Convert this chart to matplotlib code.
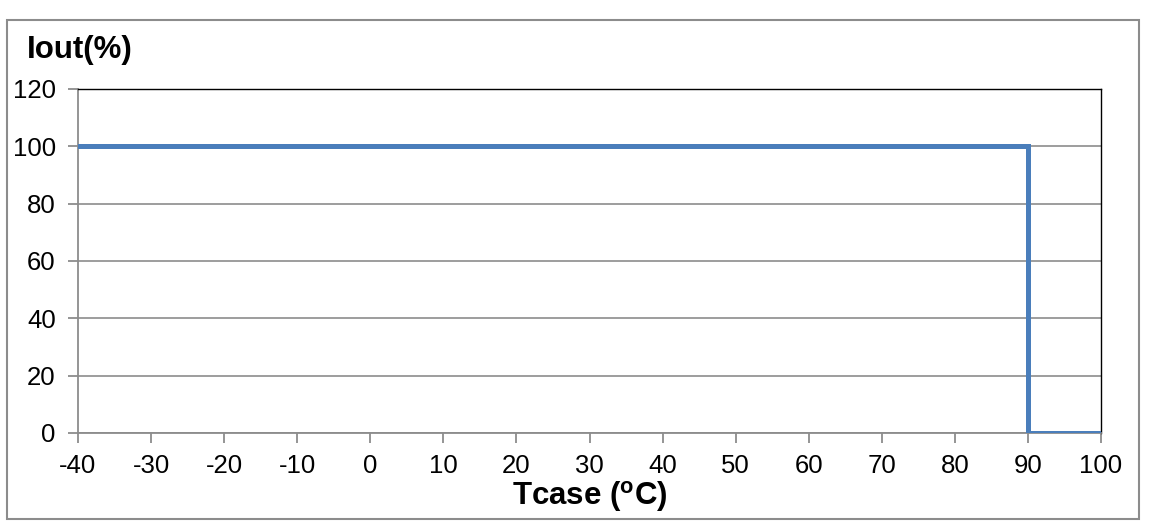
import matplotlib
matplotlib.use("Agg")
import matplotlib.pyplot as plt
from matplotlib.patches import Rectangle

plt.rcParams['font.family'] = ['Liberation Sans', 'DejaVu Sans']
plt.rcParams['axes.unicode_minus'] = False

tcase = [-40, 90, 90, 100]
iout = [100, 100, 0, 0]
x_ticks = list(range(-40, 101, 10))
y_ticks = list(range(0, 121, 20))

W, H = 1152, 528
fig = plt.figure(figsize=(W / 100, H / 100), dpi=100)
fig.patch.set_facecolor('white')

# outer border
fig.patches.append(Rectangle((7 / W, 1 - 519 / H), (1139 - 7) / W, (519 - 20) / H,
                             transform=fig.transFigure, fill=False,
                             edgecolor='#8c8c8c', linewidth=1.5))

l, r, t, b = 78, 1101, 89, 433
ax = fig.add_axes([l / W, 1 - b / H, (r - l) / W, (b - t) / H])
ax.set_xlim(-40, 100)
ax.set_ylim(0, 120)
ax.set_xticks(x_ticks)
ax.set_yticks(y_ticks)
ax.grid(axis='y', color='#8c8c8c', linewidth=1.2)
ax.set_axisbelow(True)
ax.plot(tcase, iout, color='#4a7ebb', linewidth=3.6, solid_joinstyle='miter', zorder=3)

for s in ['left', 'bottom']:
    ax.spines[s].set_color('#8c8c8c')
    ax.spines[s].set_linewidth(1.3)
for s in ['top', 'right']:
    ax.spines[s].set_color('black')
    ax.spines[s].set_linewidth(1.0)

ax.tick_params(axis='both', direction='out', color='#8c8c8c', width=1.3,
               length=7, labelsize=18.5, pad=8)
ax.tick_params(axis='y', pad=9)

fig.text(27 / W, 1 - 50 / H, 'Iout(%)', fontsize=22.5, fontweight='bold',
         ha='left', va='center')
fig.text(590 / W, 1 - 497 / H, 'Tcase ($\\mathregular{^{o}}$C)', fontsize=22.5,
         fontweight='bold', ha='center', va='center')

fig.savefig('out.png', dpi=100, facecolor='white')
